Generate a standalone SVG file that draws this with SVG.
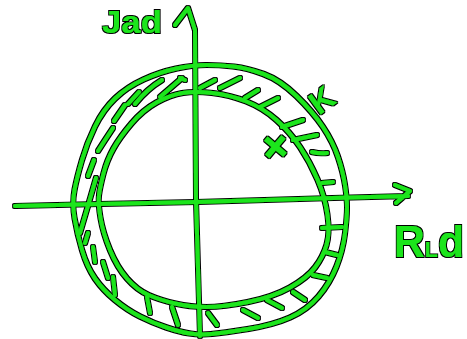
<svg xmlns="http://www.w3.org/2000/svg" width="467" height="339" viewBox="0 0 467 339">
<defs>
<style>
.ink{fill:none;stroke:#1fe51f;stroke-width:4;stroke-linecap:round;stroke-linejoin:round}
.lbl{fill:#1fe51f;font-family:"Liberation Sans",Arial,sans-serif;font-weight:bold}
</style>
<filter id="ol" filterUnits="userSpaceOnUse" x="0" y="0" width="467" height="339">
<feMorphology in="SourceAlpha" operator="dilate" radius="1.1" result="d"/>
<feFlood flood-color="#000"/>
<feComposite in2="d" operator="in" result="b"/>
<feMerge><feMergeNode in="b"/><feMergeNode in="SourceGraphic"/></feMerge>
</filter>
</defs>
<rect width="467" height="339" fill="#fff"/>
<g filter="url(#ol)">
<g id="outer-ring" class="ink">
<path d="M176.5,68.5 Q193,65 206.5,65 Q220,65 233.5,66.5 Q247,68 263.5,74 Q280,80 296.5,96 Q313,112 323,127 Q333,142 338,157 Q343,172 345,185 Q347,198 347,207.5 Q347,217 345,233.5 Q343,250 336.5,266.5 Q330,283 318.5,296.5 Q307,310 290,317.5 Q273,325 248,329 Q223,333 211.5,334 Q200,335 190,333.5 Q180,332 166.5,327.5 Q153,323 140,316.5 Q127,310 115,300 Q103,290 95,278.5 Q87,267 82,250 Q77,233 74.5,218 Q72,203 74.5,190 Q77,177 82,160 Q87,143 95,126.5 Q103,110 115,98.5 Q127,87 143.5,79.5 Q160,72 176.5,68.5 Z"/>
</g>
<g id="inner-ring" class="ink">
<path d="M182.5,93 Q195,91 212.5,93 Q230,95 246.5,101.5 Q263,108 276.5,120 Q290,132 300,147 Q310,162 317.5,179.5 Q325,197 327.5,215 Q330,233 326.5,245 Q323,257 315,267.5 Q307,278 290,287.5 Q273,297 248,302 Q223,307 206.5,307 Q190,307 175,303.5 Q160,300 148.5,295 Q137,290 127,278.5 Q117,267 110,250 Q103,233 100.5,218 Q98,203 99,195 Q100,187 103.5,173.5 Q107,160 113.5,148.5 Q120,137 131.5,123.5 Q143,110 156.5,102.5 Q170,95 182.5,93 Z"/>
</g>
<g id="hatching" class="ink">
<path d="M80,233 Q88,206 96,178"/>
<path d="M88,176 L94,160"/>
<path d="M98,151 Q105,140 113,128"/>
<path d="M114,121 L125,105"/>
<path d="M128,104 L139,92"/>
<path d="M135,104 Q147,89 162,80"/>
<path d="M160,97 L182,78"/>
<path d="M180,78 L185,80"/>
<path d="M200,88 L215,80"/>
<path d="M220,88 L240,78"/>
<path d="M245,98 L258,90"/>
<path d="M260,107 L278,98"/>
<path d="M282,127 L303,120"/>
<path d="M293,140 L317,135"/>
<path d="M312,152 Q320,154 327,153"/>
<path d="M322,183 L333,182"/>
<path d="M322,228 L342,227"/>
<path d="M325,252 L337,255"/>
<path d="M313,275 L327,278"/>
<path d="M293,292 L305,300"/>
<path d="M267,300 L282,308"/>
<path d="M243,310 L258,318"/>
<path d="M208,313 L217,325"/>
<path d="M172,307 L178,325"/>
<path d="M147,297 L150,313"/>
<path d="M113,277 L115,295"/>
<path d="M103,262 L108,278"/>
<path d="M93,247 L95,262"/>
<path d="M85,243 L88,233"/>
</g>
<g id="connectors" class="ink">
<path id="x-axis" d="M15,206 L100,204 L197,202 L333,198 L408,196 M395,185 L410,191 L396,203"/>
<path id="y-axis" d="M175,25 L188,8 L195,30 L196,200 L200,336"/>
</g>
<g id="labels">
<text class="lbl" x="102" y="33" font-size="31" textLength="60" lengthAdjust="spacingAndGlyphs">Jad</text>
<text class="lbl" x="394" y="257" font-size="44" textLength="70" lengthAdjust="spacingAndGlyphs"><tspan>R</tspan><tspan font-size="22">L</tspan><tspan>d</tspan></text>
<text class="lbl" font-size="32" transform="translate(322,100) rotate(-36)" text-anchor="middle" dy="11">K</text>
<text class="lbl" font-size="50" font-weight="normal" transform="translate(275,147) rotate(40)" text-anchor="middle" dy="16">+</text>
</g>
</g>
</svg>
